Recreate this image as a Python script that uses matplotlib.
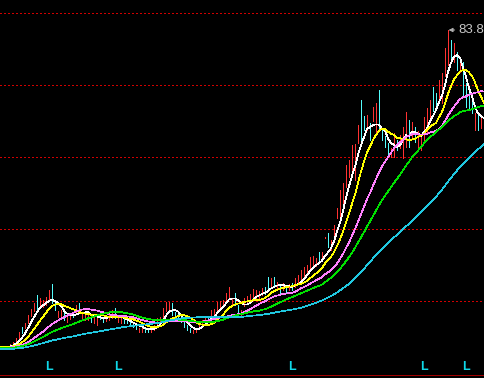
import matplotlib
matplotlib.use("Agg")
import matplotlib.pyplot as plt
import matplotlib.transforms as mtransforms
import numpy as np
import pandas as pd

# daily bars: open, high, low, close
opens = [20.3, 20.4, 20.3, 20.4, 20.8, 21.4, 22.2, 24.2, 24.4, 25.4,
         26.8, 27.8, 29.4, 28.4, 28.6, 29.0, 30.2, 31.4, 29.2, 26.6,
         26.6, 27.0, 25.6, 26.2, 27.0, 27.6, 28.8, 26.4, 26.2, 26.2,
         26.8, 25.4, 25.4, 26.6, 26.4, 25.8, 25.8, 26.4, 27.6, 25.6,
         25.4, 26.0, 25.8, 25.8, 25.4, 25.0, 23.6, 23.6, 24.4, 24.2,
         23.6, 23.8, 25.0, 25.6, 26.4, 27.8, 28.2, 29.0, 27.2, 26.8,
         26.2, 25.4, 24.8, 24.2, 23.2, 23.4, 24.2, 24.8, 25.4, 26.4,
         26.2, 26.6, 28.0, 28.4, 29.0, 29.8, 30.6, 29.0, 31.0, 28.8,
         27.0, 28.8, 29.4, 29.6, 30.0, 30.4, 30.8, 31.0, 32.0, 34.0,
         32.6, 34.0, 32.2, 32.8, 32.2, 32.8, 32.2, 32.8, 32.6, 33.2,
         34.0, 34.6, 35.0, 36.0, 36.6, 36.8, 39.2, 37.8, 42.4, 43.0,
         40.0, 42.4, 46.4, 46.6, 48.4, 52.6, 55.0, 55.6, 54.4, 61.6,
         69.4, 66.0, 64.0, 64.6, 65.8, 63.4, 71.6, 63.8, 62.2, 61.0,
         58.6, 58.8, 61.8, 60.4, 58.8, 61.0, 65.6, 62.6, 64.4, 61.0,
         60.2, 61.8, 64.2, 66.0, 72.2, 71.0, 69.4, 70.2, 75.0, 77.2,
         81.6, 78.0, 79.2, 75.6, 77.2, 72.8, 71.8, 70.2, 64.0, 67.2,
         64.4, 69.0]
highs = [20.5, 20.6, 20.6, 21.0, 21.5, 22.3, 23.4, 24.4, 25.3, 26.8,
         28.0, 29.2, 30.8, 30.2, 29.8, 30.4, 31.8, 33.0, 29.8, 27.6,
         27.8, 27.2, 26.6, 27.0, 27.2, 28.8, 29.2, 27.2, 27.2, 26.8,
         26.8, 26.4, 26.8, 26.8, 26.4, 26.6, 26.8, 27.8, 28.2, 26.4,
         26.2, 26.2, 26.0, 26.2, 25.4, 25.2, 24.2, 24.4, 24.4, 24.2,
         24.4, 24.8, 26.2, 26.4, 28.2, 29.4, 29.4, 29.2, 27.4, 27.0,
         26.4, 25.4, 24.8, 24.2, 23.8, 24.2, 25.2, 25.8, 26.4, 26.6,
         27.8, 28.0, 29.4, 29.6, 29.8, 31.2, 32.4, 30.2, 31.2, 28.8,
         27.8, 30.2, 30.6, 31.0, 32.0, 31.8, 31.6, 32.2, 32.4, 34.4,
         34.2, 34.4, 33.4, 32.8, 33.2, 32.8, 33.0, 33.2, 34.2, 34.8,
         35.8, 36.4, 36.8, 38.4, 38.6, 38.2, 39.4, 39.4, 42.5, 43.2,
         41.8, 44.8, 48.2, 51.8, 53.2, 56.8, 57.8, 60.8, 61.0, 64.8,
         69.8, 66.6, 66.8, 65.2, 68.4, 69.2, 71.8, 63.8, 62.6, 61.2,
         60.2, 63.2, 61.8, 62.8, 64.4, 67.4, 65.8, 65.4, 64.4, 63.6,
         62.8, 66.4, 68.2, 69.8, 72.4, 71.2, 73.8, 75.2, 80.2, 83.8,
         81.8, 81.2, 79.4, 77.8, 77.4, 73.2, 72.4, 70.4, 67.2, 67.2,
         66.8, 69.2]
lows = [20.2, 20.3, 20.2, 20.4, 20.7, 21.3, 22.0, 23.2, 24.2, 25.2,
        26.6, 27.6, 27.8, 28.2, 28.4, 28.8, 30.0, 29.2, 27.8, 26.4,
        26.4, 25.8, 25.4, 26.0, 26.4, 27.4, 27.2, 26.2, 25.8, 25.8,
        25.4, 25.2, 24.8, 26.0, 25.4, 25.6, 25.8, 26.2, 26.2, 25.4,
        25.2, 25.2, 25.2, 25.0, 24.4, 24.0, 23.4, 23.4, 23.4, 23.4,
        23.4, 23.8, 25.0, 25.4, 26.4, 27.6, 28.0, 26.8, 26.4, 26.0,
        25.4, 24.4, 23.8, 23.4, 23.2, 23.4, 24.0, 24.8, 25.2, 25.6,
        26.0, 26.4, 27.8, 28.2, 28.8, 29.6, 30.4, 28.8, 28.8, 27.4,
        26.8, 28.6, 29.2, 29.4, 29.8, 30.2, 30.2, 30.8, 31.0, 32.2,
        32.4, 32.6, 32.2, 31.2, 31.8, 31.4, 31.8, 31.8, 32.4, 33.0,
        33.8, 34.4, 34.8, 35.8, 36.4, 36.6, 37.2, 37.6, 42.3, 40.4,
        39.8, 42.2, 46.2, 46.4, 47.8, 52.4, 54.4, 55.2, 53.8, 61.2,
        61.2, 63.8, 63.8, 61.8, 65.6, 63.2, 64.2, 61.8, 60.4, 58.4,
        58.4, 58.4, 59.8, 60.2, 58.2, 60.4, 60.4, 62.4, 61.4, 60.4,
        59.8, 61.8, 63.2, 65.8, 67.6, 67.8, 69.2, 69.2, 74.6, 76.8,
        77.4, 77.4, 75.8, 75.4, 70.6, 68.4, 67.8, 67.2, 63.8, 63.8,
        64.2, 65.2]
closes = [20.4, 20.4, 20.5, 20.8, 21.4, 22.2, 23.2, 23.6, 25.2, 26.6,
          27.8, 28.8, 28.4, 29.4, 29.2, 30.0, 31.2, 29.4, 28.0, 27.4,
          27.6, 26.0, 26.4, 26.8, 26.6, 28.6, 27.4, 27.0, 27.0, 26.8,
          26.0, 26.2, 26.6, 26.2, 25.8, 26.4, 26.6, 27.2, 26.4, 26.2,
          26.0, 25.4, 25.4, 25.2, 24.6, 24.2, 24.2, 24.2, 23.6, 23.6,
          24.2, 24.6, 25.8, 26.2, 27.6, 29.0, 28.8, 27.0, 26.6, 26.2,
          25.6, 24.6, 24.0, 23.6, 23.6, 24.0, 25.0, 25.6, 26.2, 25.8,
          27.2, 27.4, 29.0, 29.2, 29.4, 30.6, 31.4, 30.0, 29.0, 27.8,
          27.8, 30.0, 30.0, 30.2, 30.8, 31.0, 31.4, 31.6, 31.4, 32.4,
          33.8, 32.8, 33.0, 32.0, 32.8, 32.2, 32.8, 32.2, 33.4, 34.0,
          34.8, 35.6, 36.0, 37.6, 37.2, 37.4, 37.6, 38.6, 42.4, 40.6,
          41.6, 44.6, 48.0, 51.4, 52.4, 55.0, 56.0, 58.4, 60.6, 64.4,
          64.0, 64.6, 66.6, 62.4, 66.4, 64.6, 64.4, 62.2, 60.8, 58.6,
          60.0, 62.4, 60.2, 62.4, 63.6, 65.2, 61.6, 64.4, 62.0, 62.4,
          62.6, 65.8, 67.6, 69.4, 67.8, 68.6, 73.2, 74.6, 79.6, 81.0,
          77.8, 79.4, 76.0, 77.2, 70.8, 68.8, 68.0, 67.4, 67.0, 64.4,
          66.4, 65.4]

# closes before the visible window (needed for the moving averages)
prior_closes = [19.6, 19.5, 19.7, 19.6, 19.8, 19.7, 19.6, 19.5, 19.6, 19.7,
                19.8, 19.7, 19.6, 19.7, 19.8, 19.9, 19.8, 19.7, 19.8, 19.9,
                19.8, 19.7, 19.8, 19.9, 20.0, 19.9, 19.8, 19.9, 20.0, 19.9,
                20.0, 19.9, 20.0, 20.1, 20.0, 19.9, 20.0, 20.1, 20.0, 20.1,
                20.2, 20.1, 20.0, 20.1, 20.2, 20.1, 20.2, 20.3, 20.2, 20.1,
                20.2, 20.3, 20.2, 20.3, 20.4, 20.3, 20.4, 20.3, 20.4, 20.4]

ma_periods = [5, 10, 20, 30, 60]
ma_colors = ["#ffffff", "#ffff00", "#ff80ff", "#00e000", "#20c8e0"]

grid_levels = [87.2, 72.8, 58.4, 44.0, 29.6]
bottom_level = 14.8
peak_label = "83.8"
signal_bars = [16, 39, 97, 141, 155]

UP = "#ff3232"
DOWN = "#54fcfc"
PX = 0.72  # one pixel at 100 dpi, in points

n = len(closes)
x = np.arange(n)
o = np.array(opens)
c = np.array(closes)

fig = plt.figure(figsize=(4.85, 3.78), dpi=100, facecolor="black")
ax = fig.add_axes([0, 0, 1, 1], facecolor="black")
ax.set_xlim(-1 / 3, 161.33)
ax.set_ylim(14.2, 89.8)
ax.axis("off")

for lv in grid_levels:
    ax.axhline(lv, color="#d00000", lw=PX, linestyle=(0, (1.4, 2.8)),
               antialiased=False, zorder=1)
ax.axhline(bottom_level, color="#a00000", lw=PX, antialiased=False, zorder=1)

colors = [UP if cc >= oo else DOWN for oo, cc in zip(o, c)]
ax.vlines(x, lows, highs, colors=colors, lw=PX, antialiased=False, zorder=2)

full = pd.Series(prior_closes + closes)
for p, col in zip(ma_periods, ma_colors):
    ma = full.rolling(p).mean().to_numpy()[len(prior_closes):]
    ax.plot(x, ma, color=col, lw=0.5, antialiased=False, zorder=3)

peak = int(np.argmax(highs))
ax.annotate(peak_label, xy=(peak + 0.2, highs[peak]),
            xytext=(peak + 3.6, highs[peak]),
            color="#c8c8c8", fontsize=9.5, family="Liberation Sans",
            ha="left", va="center",
            arrowprops=dict(arrowstyle="-|>", color="#b0b0b0", lw=PX,
                            mutation_scale=6, shrinkA=1, shrinkB=0))

trans = mtransforms.blended_transform_factory(ax.transData, ax.transAxes)
for b in signal_bars:
    ax.text(b, 0.028, "L", transform=trans, color="#10d8e8", fontsize=9,
            fontweight="bold", family="Liberation Sans",
            ha="center", va="center")

fig.savefig("out.png", dpi=100, facecolor="black")
